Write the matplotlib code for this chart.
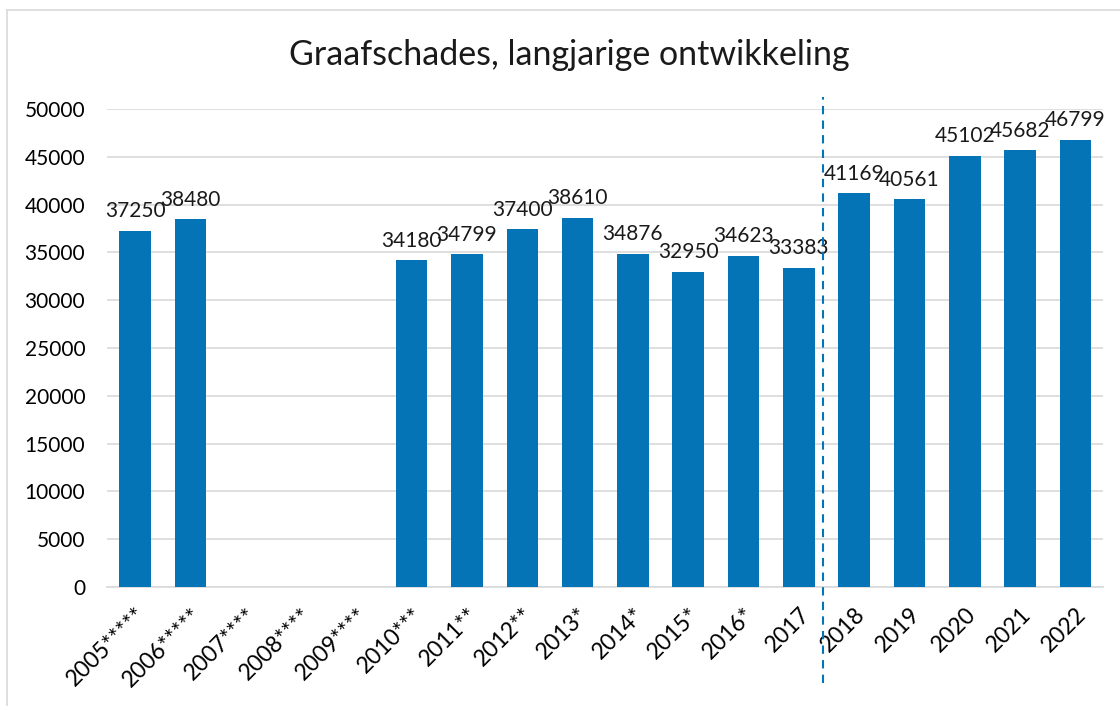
import matplotlib.pyplot as plt
import numpy as np

years = ['2005*****', '2006*****', '2007****', '2008****', '2009****', '2010***',
         '2011**', '2012**', '2013*', '2014*', '2015*', '2016*', '2017',
         '2018', '2019', '2020', '2021', '2022']
values = [37250, 38480, None, None, None, 34180, 34799, 37400, 38610, 34876,
          32950, 34623, 33383, 41169, 40561, 45102, 45682, 46799]

plt.rcParams['font.family'] = ['Lato', 'DejaVu Sans']

fig = plt.figure(figsize=(11.2, 7.1), dpi=100)
ax = fig.add_axes([0.0959, 0.1732, 0.889, 0.6733])

x = np.arange(len(years))
bar_color = '#0474B7'
for i, v in enumerate(values):
    if v is None:
        continue
    ax.bar(x[i], v, width=0.57, color=bar_color, zorder=3)
    ax.text(x[i], v + 1000, str(v), ha='center', va='bottom', fontsize=15, color='#1a1a1a')

ax.set_xlim(-0.5, len(years) - 0.5)
ax.set_ylim(0, 50000)
ax.set_yticks(np.arange(0, 50001, 5000))
ax.set_xticks(x)
ax.set_xticklabels(years, rotation=45, ha='right', rotation_mode='anchor', fontsize=16.5)
ax.tick_params(axis='y', labelsize=15, length=0, pad=16)
ax.tick_params(axis='x', length=0, pad=12)
ax.grid(axis='y', color='#D9D9D9', linewidth=1.2, zorder=0)

for s in ['top', 'right', 'left']:
    ax.spines[s].set_visible(False)
ax.spines['bottom'].set_color('#D9D9D9')
ax.spines['bottom'].set_linewidth(1.2)

# dashed divider between 2017 and 2018
trans = ax.get_xaxis_transform()
ax.plot([12.43, 12.43], [-0.2, 1.025], transform=trans, color=bar_color,
        linestyle=(0, (4, 3)), linewidth=1.5, clip_on=False, zorder=4)

fig.text(0.508, 0.922, 'Graafschades, langjarige ontwikkeling', ha='center', va='center',
         fontsize=24.5, color='#1a1a1a')

# chart frame (left and top edges)
fig.add_artist(plt.Line2D([0.0065, 0.0065], [0.007, 0.986], color='#D9D9D9', linewidth=1.2))
fig.add_artist(plt.Line2D([0.0065, 1.0], [0.986, 0.986], color='#D9D9D9', linewidth=1.2))

fig.savefig('out.png', dpi=100)
